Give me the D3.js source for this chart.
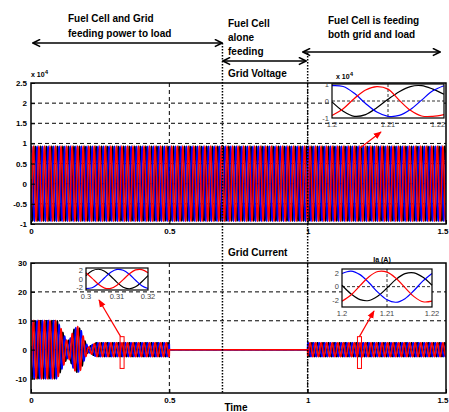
<!DOCTYPE html>
<html>
<head>
<meta charset="utf-8">
<script src="https://cdn.jsdelivr.net/npm/d3@7"></script>
<style>
body { margin: 0; background: #fff; }
svg { display: block; font-family: "Liberation Sans", Arial, sans-serif; }
.lbl { font-weight: bold; font-size: 10px; fill: #000; }
.tick text { font-weight: bold; font-size: 8px; font-family: "Liberation Sans", Arial, sans-serif; }
.itick { font-size: 7.5px; fill: #444; }
</style>
</head>
<body>
<script>
// ---- data ----
var timeTicks = [0, 0.5, 1, 1.5];
var timeLabels = ['0', '0.5', '1', '1.5'];
var voltTicks = [-1, -0.5, 0, 0.5, 1, 1.5, 2, 2.5];
var voltLabels = ['-1', '-0.5', '0', '0.5', '1', '1.5', '2', '2.5'];
var currTicks = [-10, 0, 10, 20, 30];
var currLabels = ['-10', '0', '10', '20', '30'];
var sepTimes = [0.692, 1.0];          // mode boundaries (dotted lines)

var gridFreq = 50;                     // Hz
var phaseNames = ['black', 'blue', 'red'];   // drawing order
var phaseLag = [0.77, 0.09, 0.44];     // fraction of a cycle

// envelopes of the main traces (time s, peak value)
var voltEnvT = [0, 1.5];
var voltEnvA = [0.92, 0.92];           // x 10^4
var currEnvT = [0, 0.095, 0.115, 0.13, 0.14, 0.155, 0.168, 0.18, 0.195, 0.207, 0.222, 0.235, 0.5, 0.5005, 0.9995, 1.0, 1.5];
var currEnvA = [10, 10, 6, 3, 3.5, 7, 8, 7, 3, 0.8, 1.8, 2.4, 2.4, 0, 0, 2.4, 2.4];

// zoomed insets, sampled every 1/10 of the window
var insetFrac = [0, 0.1, 0.2, 0.3, 0.4, 0.5, 0.6, 0.7, 0.8, 0.9, 1.0];
var vInsetBlack = [-0.05, -0.6, -0.9, -0.8, -0.4, 0.1, 0.55, 0.85, 0.9, 0.7, 0.4];
var vInsetBlue = [0.9, 0.85, 0.45, -0.15, -0.65, -0.9, -0.85, -0.5, 0.05, 0.6, 0.9];
var vInsetRed = [-0.85, -0.45, 0.15, 0.65, 0.85, 0.7, 0.05, -0.55, -0.88, -0.9, -0.8];
var iLeftBlack = [0.79, 1.94, 2.3, 1.85, 0.65, -0.79, -1.94, -2.3, -1.85, -0.65, 0.79];
var iLeftBlue = [-2.26, -2.08, -1.11, 0.29, 1.58, 2.26, 2.08, 1.11, -0.29, -1.58, -2.26];
var iLeftRed = [1.47, 0.14, -1.23, -2.14, -2.23, -1.47, -0.14, 1.23, 2.14, 2.23, 1.47];
var iRightBlack = [0.2, -1.07, -1.91, -2.04, -1.38, -0.2, 1.07, 1.91, 2.04, 1.38, 0.2];
var iRightBlue = [1.94, 2.3, 1.77, 0.57, -0.85, -1.94, -2.3, -1.77, -0.57, 0.85, 1.94];
var iRightRed = [-2.14, -1.23, 0.14, 1.47, 2.23, 2.14, 1.23, -0.14, -1.47, -2.23, -2.14];

// ---- layout ----
var W = 449, H = 412;
var svg = d3.select('body').append('svg').attr('width', W).attr('height', H);

var defs = svg.append('defs');
defs.append('marker').attr('id', 'barb')
	.attr('viewBox', '0 -5 10 10').attr('refX', 9).attr('refY', 0)
	.attr('markerWidth', 9).attr('markerHeight', 9).attr('markerUnits', 'userSpaceOnUse')
	.attr('orient', 'auto-start-reverse')
	.append('path').attr('d', 'M1,-4L9,0L1,4').attr('fill', 'none').attr('stroke', '#000').attr('stroke-width', 1.8);
defs.append('marker').attr('id', 'redhead')
	.attr('viewBox', '0 -5 10 10').attr('refX', 9).attr('refY', 0)
	.attr('markerWidth', 8).attr('markerHeight', 8).attr('markerUnits', 'userSpaceOnUse')
	.attr('orient', 'auto')
	.append('path').attr('d', 'M0,-4L10,0L0,4Z').attr('fill', 'red');

var x = d3.scaleLinear().domain([0, 1.5]).range([31, 446]);
var yV = d3.scaleLinear().domain([-1, 2.5]).range([224, 83]);
var yI = d3.scaleLinear().domain([-15, 30]).range([393, 263]);

// sample times for the dense 50 Hz traces
var nPts = Math.round(1.5 * gridFreq * 64);
var tSamples = d3.range(nPts + 1).map(function(i) { return i * 1.5 / nPts; });

function drawPanel(id, y, ticks, labels, env) {
	var top = y.range()[1], bottom = y.range()[0];
	var g = svg.append('g');

	defs.append('clipPath').attr('id', id)
		.append('rect').attr('x', x(0)).attr('y', top)
		.attr('width', x(1.5) - x(0)).attr('height', bottom - top);

	// grid
	g.selectAll('.hg').data(ticks.slice(1, -1)).enter().append('line')
		.attr('x1', x(0)).attr('x2', x(1.5))
		.attr('y1', function(d) { return y(d); }).attr('y2', function(d) { return y(d); })
		.attr('stroke', '#000').attr('stroke-width', 1).attr('stroke-dasharray', '4,3');
	g.selectAll('.vg').data(timeTicks.slice(1, -1)).enter().append('line')
		.attr('x1', function(d) { return x(d); }).attr('x2', function(d) { return x(d); })
		.attr('y1', top).attr('y2', bottom)
		.attr('stroke', '#000').attr('stroke-width', 1).attr('stroke-dasharray', '4,3');

	// three phases
	var line = d3.line().x(function(d) { return x(d[0]); }).y(function(d) { return y(d[1]); });
	var traces = g.append('g').attr('clip-path', 'url(#' + id + ')');
	phaseNames.forEach(function(c, k) {
		var pts = tSamples.map(function(t) {
			return [t, env(t) * Math.cos(2 * Math.PI * (gridFreq * t - phaseLag[k]))];
		});
		traces.append('path').datum(pts).attr('d', line)
			.attr('fill', 'none').attr('stroke', c).attr('stroke-width', 1.5);
	});

	// axes
	var yAxis = d3.axisLeft(y).tickValues(ticks)
		.tickFormat(function(d, i) { return labels[i]; })
		.tickSizeInner(-4).tickSizeOuter(0).tickPadding(4);
	var yg = g.append('g').attr('transform', 'translate(' + x(0) + ',0)').call(yAxis);
	var xAxis = d3.axisBottom(x).tickValues(timeTicks)
		.tickFormat(function(d, i) { return timeLabels[i]; })
		.tickSizeInner(-4).tickSizeOuter(0).tickPadding(4);
	var xg = g.append('g').attr('transform', 'translate(0,' + bottom + ')').call(xAxis);
	yg.select('.domain').remove();
	xg.select('.domain').remove();
	// last time label sits against the right edge of the window
	xg.selectAll('.tick text').filter(function(d) { return d === 1.5; })
		.attr('text-anchor', 'end').attr('x', 2);

	g.append('rect').attr('x', x(0)).attr('y', top)
		.attr('width', x(1.5) - x(0)).attr('height', bottom - top)
		.attr('fill', 'none').attr('stroke', '#000').attr('stroke-width', 1.5);
	return g;
}

var voltEnv = d3.scaleLinear().domain(voltEnvT).range(voltEnvA).clamp(true);
var currEnv = d3.scaleLinear().domain(currEnvT).range(currEnvA).clamp(true);
drawPanel('clipV', yV, voltTicks, voltLabels, voltEnv);
drawPanel('clipI', yI, currTicks, currLabels, currEnv);

// exponent label of voltage axis
var ex = svg.append('text').attr('x', 31).attr('y', 77).attr('font-size', 7).attr('font-weight', 'bold');
ex.append('tspan').text('x 10');
ex.append('tspan').attr('dy', -3).attr('font-size', 6).text('4');

// inset helper
function drawInset(xr, px, yr, py, yTicks, series, xLabels, gridY) {
	var ix = d3.scaleLinear().domain(xr).range(px);
	var iy = d3.scaleLinear().domain(yr).range(py);
	var g = svg.append('g');
	g.append('rect').attr('x', px[0]).attr('y', py[1])
		.attr('width', px[1] - px[0]).attr('height', py[0] - py[1]).attr('fill', '#fff');
	if (gridY) {
		g.append('line').attr('x1', px[0]).attr('x2', px[1]).attr('y1', iy(0)).attr('y2', iy(0))
			.attr('stroke', '#000').attr('stroke-width', 0.8).attr('stroke-dasharray', '3,2');
		var xm = (xr[0] + xr[1]) / 2;
		g.append('line').attr('x1', ix(xm)).attr('x2', ix(xm)).attr('y1', py[1]).attr('y2', py[0])
			.attr('stroke', '#000').attr('stroke-width', 0.8).attr('stroke-dasharray', '3,2');
	}
	var line = d3.line().curve(d3.curveCatmullRom)
		.x(function(d, i) { return ix(xr[0] + insetFrac[i] * (xr[1] - xr[0])); })
		.y(function(d) { return iy(d); });
	series.forEach(function(s) {
		g.append('path').datum(s.v).attr('d', line)
			.attr('fill', 'none').attr('stroke', s.c).attr('stroke-width', 1.2);
	});
	g.append('rect').attr('x', px[0]).attr('y', py[1])
		.attr('width', px[1] - px[0]).attr('height', py[0] - py[1])
		.attr('fill', 'none').attr('stroke', '#000').attr('stroke-width', 1.2);
	g.selectAll('.yl').data(yTicks).enter().append('text').attr('class', 'itick')
		.attr('x', px[0] - 3).attr('y', function(d) { return iy(d); }).attr('dy', '0.35em')
		.attr('text-anchor', 'end').text(function(d) { return d; });
	g.selectAll('.xl').data(xLabels).enter().append('text').attr('class', 'itick')
		.attr('x', function(d, i) { return Math.min(ix(xr[0] + i * (xr[1] - xr[0]) / 2), 438); })
		.attr('y', py[0] + 9).attr('text-anchor', 'middle').text(function(d) { return d; });
	return g;
}

drawInset([1.2, 1.22], [332, 444], [-1, 1], [118, 84], [1, 0, -1],
	[{ c: 'black', v: vInsetBlack }, { c: 'blue', v: vInsetBlue }, { c: 'red', v: vInsetRed }],
	['1.2', '1.21', '1.22'], true);
var ex2 = svg.append('text').attr('x', 336).attr('y', 79).attr('font-size', 7).attr('font-weight', 'bold');
ex2.append('tspan').text('x 10');
ex2.append('tspan').attr('dy', -3).attr('font-size', 6).text('4');

drawInset([0.3, 0.32], [86, 148], [-2.6, 2.6], [290, 268], [2, 0, -2],
	[{ c: 'black', v: iLeftBlack }, { c: 'blue', v: iLeftBlue }, { c: 'red', v: iLeftRed }],
	['0.3', '0.31', '0.32'], false);

drawInset([1.2, 1.22], [342, 432], [-3, 2.6], [307, 269], [2, 0, -2],
	[{ c: 'black', v: iRightBlack }, { c: 'blue', v: iRightBlue }, { c: 'red', v: iRightRed }],
	['1.2', '1.21', '1.22'], true);
svg.append('text').attr('x', 382).attr('y', 262)
	.attr('text-anchor', 'middle').attr('font-size', 7).attr('font-weight', 'bold').text('Ia (A)');

// zoom markers and red arrows
svg.append('rect').attr('x', x(0.322)).attr('y', yI(4.5)).attr('width', 4).attr('height', yI(-6.5) - yI(4.5))
	.attr('fill', 'none').attr('stroke', 'red').attr('stroke-width', 1);
svg.append('rect').attr('x', x(1.18)).attr('y', yI(4.5)).attr('width', 4).attr('height', yI(-6.5) - yI(4.5))
	.attr('fill', 'none').attr('stroke', 'red').attr('stroke-width', 1);
[[x(0.324), yI(4.5), 99, 300], [x(1.187), yI(4.5), 374, 311], [360, 148, 381, 132]].forEach(function(a) {
	svg.append('line').attr('x1', a[0]).attr('y1', a[1]).attr('x2', a[2]).attr('y2', a[3])
		.attr('stroke', 'red').attr('stroke-width', 1.2).attr('marker-end', 'url(#redhead)');
});

// mode boundaries
svg.selectAll('.sep').data(sepTimes).enter().append('line')
	.attr('x1', function(d) { return x(d); }).attr('x2', function(d) { return x(d); })
	.attr('y1', function(d, i) { return i === 0 ? 43 : 53; }).attr('y2', 393)
	.attr('stroke', '#000').attr('stroke-width', 1.5).attr('stroke-dasharray', '1.5,1.5');

// double arrows
[[33, 222, 43], [223, 306, 61], [303, 440, 52]].forEach(function(a) {
	svg.append('line').attr('x1', a[0]).attr('x2', a[1]).attr('y1', a[2]).attr('y2', a[2])
		.attr('stroke', '#000').attr('stroke-width', 1.3)
		.attr('marker-start', 'url(#barb)').attr('marker-end', 'url(#barb)');
});

// annotations
var notes = [
	['Fuel Cell and Grid', 68, 22], ['feeding power to load', 68, 37],
	['Fuel Cell', 228, 27], ['alone', 228, 41], ['feeding', 228, 55],
	['Fuel Cell is feeding', 328, 24], ['both grid and load', 328, 38],
	['Grid Voltage', 228, 77], ['Grid Current', 228, 256]
];
svg.selectAll('.note').data(notes).enter().append('text').attr('class', 'lbl')
	.attr('x', function(d) { return d[1]; }).attr('y', function(d) { return d[2]; })
	.text(function(d) { return d[0]; });

svg.append('text').attr('class', 'lbl').attr('x', 236).attr('y', 411)
	.attr('text-anchor', 'middle').text('Time');
</script>
</body>
</html>
